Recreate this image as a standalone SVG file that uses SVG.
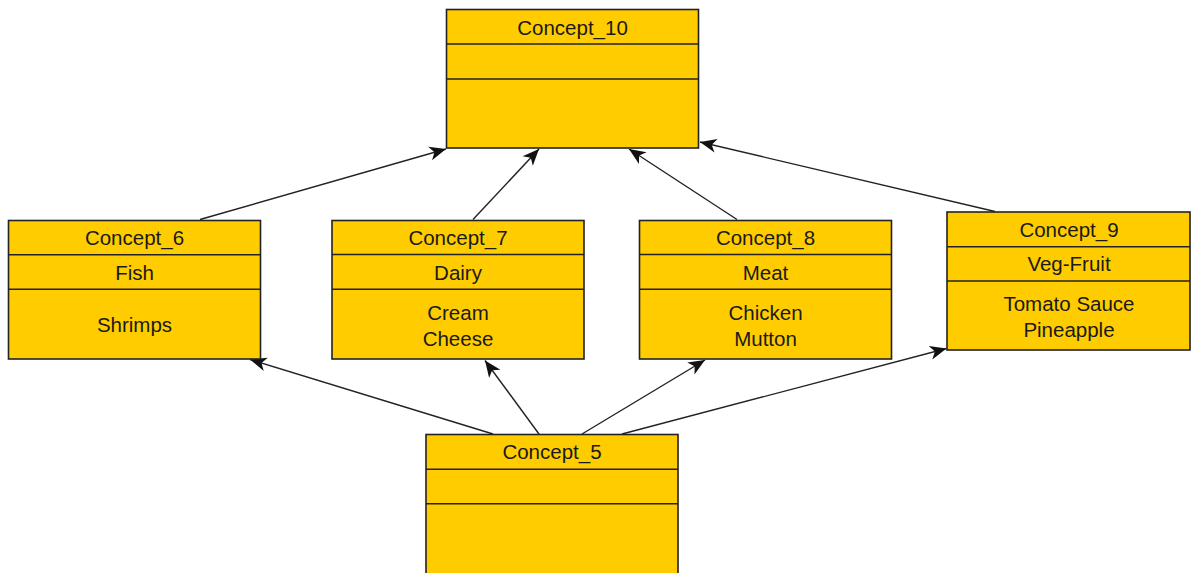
<svg xmlns="http://www.w3.org/2000/svg" width="1191" height="573" viewBox="0 0 1191 573">
<style>
.box{fill:#FFCC00;stroke:#222;stroke-width:1.6}
.div{stroke:#222;stroke-width:1.6}
.t{font-family:"Liberation Sans",Arial,sans-serif;font-size:20.5px;fill:#1a1a1a;text-anchor:middle}
.edge{stroke:#222;stroke-width:1.4;fill:none;marker-end:url(#arr)}
</style>
<defs>
<marker id="arr" markerUnits="userSpaceOnUse" markerWidth="20" markerHeight="20" viewBox="-18 -9 20 18" refX="0" refY="0" orient="auto" overflow="visible">
<path d="M0,0 L-16.5,-7 L-12,0 L-16.5,7 Z" fill="#111"/>
</marker>
</defs>
<rect width="1191" height="573" fill="#fff"/>
<g id="connectors">
<line class="edge" x1="200" y1="219.5" x2="446" y2="149"/>
<line class="edge" x1="473" y1="219.5" x2="539" y2="149"/>
<line class="edge" x1="737" y1="219.5" x2="629" y2="149"/>
<line class="edge" x1="995" y1="211.5" x2="700" y2="142"/>
<line class="edge" x1="493" y1="434" x2="250" y2="359.5"/>
<line class="edge" x1="539" y1="434" x2="485" y2="360.5"/>
<line class="edge" x1="582" y1="434" x2="705" y2="360"/>
<line class="edge" x1="622" y1="434" x2="946.5" y2="348.5"/>
</g>
<g id="concept10">
<rect class="box" x="446.5" y="9.5" width="252" height="138.5"/>
<line class="div" x1="446.5" y1="44" x2="698.5" y2="44"/>
<line class="div" x1="446.5" y1="79" x2="698.5" y2="79"/>
<text class="t" x="572.5" y="34.5">Concept_10</text>
</g>
<g id="concept6">
<rect class="box" x="8.5" y="220.5" width="252" height="138.5"/>
<line class="div" x1="8.5" y1="254.7" x2="260.5" y2="254.7"/>
<line class="div" x1="8.5" y1="289.3" x2="260.5" y2="289.3"/>
<text class="t" x="134.5" y="245">Concept_6</text>
<text class="t" x="134.5" y="280">Fish</text>
<text class="t" x="134.5" y="332">Shrimps</text>
</g>
<g id="concept7">
<rect class="box" x="332" y="220.5" width="252" height="138.5"/>
<line class="div" x1="332" y1="254.5" x2="584" y2="254.5"/>
<line class="div" x1="332" y1="289.3" x2="584" y2="289.3"/>
<text class="t" x="458" y="245">Concept_7</text>
<text class="t" x="458" y="280">Dairy</text>
<text class="t" x="458" y="320">Cream</text>
<text class="t" x="458" y="346">Cheese</text>
</g>
<g id="concept8">
<rect class="box" x="639.5" y="220.5" width="252" height="138.5"/>
<line class="div" x1="639.5" y1="254.5" x2="891.5" y2="254.5"/>
<line class="div" x1="639.5" y1="289.3" x2="891.5" y2="289.3"/>
<text class="t" x="765.5" y="245">Concept_8</text>
<text class="t" x="765.5" y="280">Meat</text>
<text class="t" x="765.5" y="320">Chicken</text>
<text class="t" x="765.5" y="346">Mutton</text>
</g>
<g id="concept9">
<rect class="box" x="947" y="212" width="243" height="138"/>
<line class="div" x1="947" y1="246.7" x2="1190" y2="246.7"/>
<line class="div" x1="947" y1="281" x2="1190" y2="281"/>
<text class="t" x="1069" y="236.5">Concept_9</text>
<text class="t" x="1069" y="271">Veg-Fruit</text>
<text class="t" x="1069" y="311">Tomato Sauce</text>
<text class="t" x="1069" y="337">Pineapple</text>
</g>
<g id="concept5">
<rect class="box" x="426" y="434.5" width="252" height="145"/>
<line class="div" x1="426" y1="469.3" x2="678" y2="469.3"/>
<line class="div" x1="426" y1="503.7" x2="678" y2="503.7"/>
<text class="t" x="552" y="459">Concept_5</text>
</g>
</svg>
